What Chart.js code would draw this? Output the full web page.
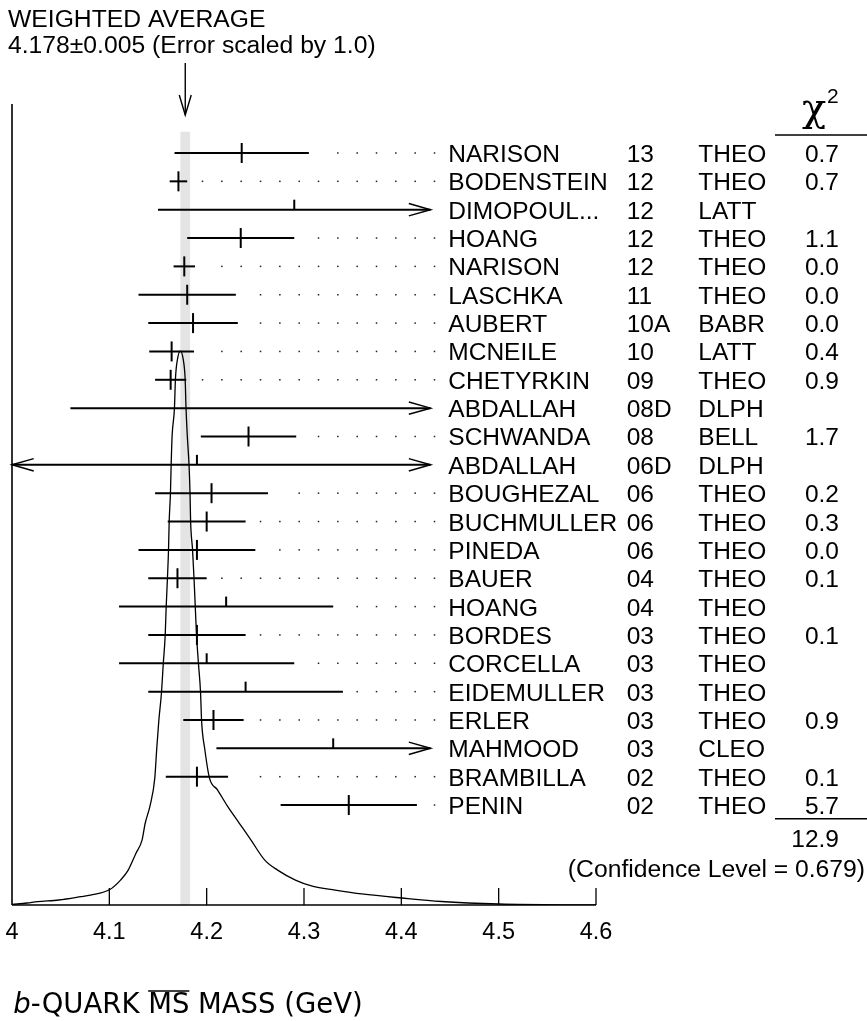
<!DOCTYPE html>
<html>
<head>
<meta charset="utf-8">
<script src="https://cdn.jsdelivr.net/npm/chart.js@4.4.1/dist/chart.umd.min.js"></script>
<style>
html, body { margin: 0; padding: 0; background: #fff; }
#wrap { width: 867px; height: 1021px; }
</style>
</head>
<body>
<div id="wrap"><canvas id="chart" width="867" height="1021"></canvas></div>
<script>
// measurements, top to bottom
const names = ['NARISON', 'BODENSTEIN', 'DIMOPOUL...', 'HOANG', 'NARISON', 'LASCHKA', 'AUBERT', 'MCNEILE',
  'CHETYRKIN', 'ABDALLAH', 'SCHWANDA', 'ABDALLAH', 'BOUGHEZAL', 'BUCHMULLER', 'PINEDA', 'BAUER', 'HOANG',
  'BORDES', 'CORCELLA', 'EIDEMULLER', 'ERLER', 'MAHMOOD', 'BRAMBILLA', 'PENIN'];
const years = ['13', '12', '12', '12', '12', '11', '10A', '10', '09', '08D', '08', '06D', '06', '06', '06',
  '04', '04', '03', '03', '03', '03', '03', '02', '02'];
const techs = ['THEO', 'THEO', 'LATT', 'THEO', 'THEO', 'THEO', 'BABR', 'LATT', 'THEO', 'DLPH', 'BELL', 'DLPH',
  'THEO', 'THEO', 'THEO', 'THEO', 'THEO', 'THEO', 'THEO', 'THEO', 'THEO', 'CLEO', 'THEO', 'THEO'];
const chi2 = ['0.7', '0.7', '', '1.1', '0.0', '0.0', '0.0', '0.4', '0.9', '', '1.7', '', '0.2', '0.3', '0.0',
  '0.1', '', '0.1', '', '', '0.9', '', '0.1', '5.7'];
const values = [4.236, 4.171, 4.29, 4.235, 4.177, 4.18, 4.186, 4.164, 4.163, 4.46, 4.243, 4.19, 4.205, 4.20,
  4.19, 4.17, 4.22, 4.19, 4.20, 4.24, 4.207, 4.33, 4.190, 4.346];
const errors = [0.069, 0.009, 0.14, 0.055, 0.011, 0.05, 0.046, 0.023, 0.016, 0.40, 0.049, 0.40, 0.058, 0.04,
  0.06, 0.03, 0.11, 0.05, 0.09, 0.10, 0.031, 0.12, 0.032, 0.070];

// ideogram curve (height relative to the peak)
const curveX = [4.000, 4.0155, 4.0262, 4.0481, 4.0707, 4.0806, 4.1006, 4.1115, 4.1194, 4.1275, 4.1336, 4.1369,
  4.1418, 4.1467, 4.1487, 4.1508, 4.1536, 4.1554, 4.1574, 4.1584, 4.1597, 4.1608, 4.1615, 4.1628, 4.1635,
  4.1645, 4.1669, 4.1679, 4.1699, 4.1730, 4.1760, 4.1779, 4.1788, 4.1801, 4.1819, 4.1829, 4.1835, 4.1855,
  4.1870, 4.1883, 4.1896, 4.1916, 4.1937, 4.1948, 4.1980, 4.2029, 4.2111, 4.2212, 4.2334, 4.2456, 4.2597,
  4.2729, 4.2912, 4.3085, 4.3320, 4.3595, 4.4003, 4.4411, 4.5002, 4.6000];
const curveY = [0.001, 0.0036, 0.006, 0.009, 0.015, 0.018, 0.028, 0.045, 0.063, 0.094, 0.117, 0.148, 0.179,
  0.229, 0.282, 0.332, 0.384, 0.435, 0.487, 0.538, 0.590, 0.641, 0.693, 0.744, 0.794, 0.847, 0.897, 0.949,
  0.984, 1.000, 0.984, 0.949, 0.897, 0.847, 0.794, 0.744, 0.693, 0.641, 0.590, 0.538, 0.487, 0.435, 0.384,
  0.332, 0.282, 0.229, 0.208, 0.179, 0.148, 0.117, 0.081, 0.063, 0.045, 0.034, 0.027, 0.020, 0.0126, 0.0063,
  0.0018, 0.000];

const tickValues = [4.0, 4.1, 4.2, 4.3, 4.4, 4.5, 4.6];
const tickLabels = ['4', '4.1', '4.2', '4.3', '4.4', '4.5', '4.6'];

const average = 4.178;
const averageErr = 0.005;
const chi2Total = '12.9';
const confidence = '(Confidence Level = 0.679)';

const barLimit = 4.43;   // bars are cut here by the name column
const sans = "'Liberation Sans', Arial, sans-serif";

const curvePoints = curveX.map((x, i) => ({ x: x, y: curveY[i] }));
const usedPoints = [];
values.forEach((v, i) => { if (chi2[i] !== '') usedPoints.push({ x: v, y: i }); });

function line(ctx, x0, y0, x1, y1) {
  ctx.beginPath();
  ctx.moveTo(x0, y0);
  ctx.lineTo(x1, y1);
  ctx.stroke();
}

const ideogram = {
  id: 'ideogram',
  beforeDatasetsDraw(chart) {
    const ctx = chart.ctx, xs = chart.scales.x, yr = chart.scales.yr, area = chart.chartArea;
    ctx.save();

    // error band of the average
    const b0 = xs.getPixelForValue(average - averageErr);
    const b1 = xs.getPixelForValue(average + averageErr);
    const bt = yr.getPixelForValue(-0.75);
    ctx.fillStyle = '#e4e4e4';
    ctx.fillRect(b0, bt, b1 - b0, area.bottom - bt);

    // axes and ticks
    ctx.strokeStyle = '#000';
    ctx.lineWidth = 1.6;
    line(ctx, area.left, area.top, area.left, area.bottom);
    line(ctx, area.left, area.bottom, area.right, area.bottom);
    ctx.lineWidth = 1.3;
    ctx.font = '23.5px ' + sans;
    ctx.fillStyle = '#000';
    ctx.textAlign = 'center';
    ctx.textBaseline = 'alphabetic';
    tickValues.forEach((t, i) => {
      const px = xs.getPixelForValue(t);
      if (i > 0) line(ctx, px, area.bottom, px, area.bottom - 17);
      ctx.fillText(tickLabels[i], px, area.bottom + 33.5);
    });

    // error bars
    const xmin = xs.getPixelForValue(4.0);
    const xlim = xs.getPixelForValue(barLimit);
    values.forEach((v, i) => {
      const y = yr.getPixelForValue(i);
      const lo = v - errors[i], hi = v + errors[i];
      const leftArrow = lo < 4.0;
      const rightArrow = hi >= barLimit - 0.001;
      const x0 = leftArrow ? xmin : xs.getPixelForValue(lo);
      const x1 = rightArrow ? xlim : xs.getPixelForValue(hi);
      ctx.lineWidth = 2;
      line(ctx, x0, y, x1, y);
      ctx.lineWidth = 1.5;
      if (rightArrow) {
        ctx.beginPath();
        ctx.moveTo(x1 - 21.7, y - 6.2);
        ctx.lineTo(x1, y);
        ctx.lineTo(x1 - 21.7, y + 6.2);
        ctx.stroke();
      }
      if (leftArrow) {
        ctx.beginPath();
        ctx.moveTo(x0 + 21.7, y - 6.2);
        ctx.lineTo(x0, y);
        ctx.lineTo(x0 + 21.7, y + 6.2);
        ctx.stroke();
      }
      // measurements left out of the average get a half tick
      if (chi2[i] === '' && v < barLimit) {
        const px = xs.getPixelForValue(v);
        ctx.lineWidth = 2;
        line(ctx, px, y, px, y - 10);
      }
      // dotted leader towards the name
      if (!rightArrow) {
        ctx.fillStyle = '#222';
        for (let dx = 434.5; dx > x1 + 13.5; dx -= 19.33) {
          ctx.fillRect(dx - 0.75, y - 0.75, 1.5, 1.5);
        }
      }
    });
    ctx.restore();
  },
  afterDraw(chart) {
    const ctx = chart.ctx, xs = chart.scales.x, yr = chart.scales.yr, area = chart.chartArea;
    ctx.save();
    ctx.fillStyle = '#000';
    ctx.strokeStyle = '#000';
    ctx.textBaseline = 'alphabetic';

    // header
    ctx.font = '24.7px ' + sans;
    ctx.textAlign = 'left';
    ctx.fillText('WEIGHTED AVERAGE', 8, 27);
    ctx.fillText('4.178\u00b10.005 (Error scaled by 1.0)', 8, 53.3);

    // arrow to the average
    const ax = xs.getPixelForValue(average);
    ctx.lineWidth = 1.4;
    line(ctx, ax, 63, ax, 115);
    ctx.beginPath();
    ctx.moveTo(ax - 6, 95);
    ctx.lineTo(ax, 115);
    ctx.lineTo(ax + 6, 95);
    ctx.stroke();

    // chi^2 column head
    ctx.font = "40px 'DejaVu Serif', serif";
    ctx.textAlign = 'left';
    ctx.fillText('\u03c7', 802, 121);
    ctx.font = '21px ' + sans;
    ctx.fillText('2', 827, 103);
    ctx.lineWidth = 1.3;
    line(ctx, 775, 135, 867, 135);

    // rows
    ctx.font = '24.5px ' + sans;
    names.forEach((n, i) => {
      const y = yr.getPixelForValue(i) + 9;
      ctx.textAlign = 'left';
      ctx.fillText(n, 448.3, y);
      ctx.fillText(years[i], 626.7, y);
      ctx.fillText(techs[i], 698.3, y);
      ctx.textAlign = 'right';
      if (chi2[i] !== '') ctx.fillText(chi2[i], 839, y);
    });
    const yLast = yr.getPixelForValue(names.length - 1);
    line(ctx, 775, yLast + 13.7, 867, yLast + 13.7);
    ctx.textAlign = 'right';
    ctx.fillText(chi2Total, 839, yLast + 42);
    ctx.font = '24.7px ' + sans;
    ctx.fillText(confidence, 865, yLast + 71.5);

    // x axis title
    let x = 13.3;
    const yb = area.bottom + 108;
    ctx.textAlign = 'left';
    ctx.font = "italic 27.5px 'DejaVu Sans', sans-serif";
    ctx.fillText('b', x, yb);
    x += ctx.measureText('b').width;
    ctx.font = "27.5px 'DejaVu Sans', sans-serif";
    ctx.fillText('-QUARK ', x, yb);
    x += ctx.measureText('-QUARK ').width;
    const msw = ctx.measureText('MS').width;
    ctx.fillText('MS', x, yb);
    ctx.lineWidth = 1.6;
    line(ctx, x, yb - 22, x + msw, yb - 22);
    x += msw;
    ctx.fillText(' MASS (GeV)', x, yb);
    ctx.restore();
  }
};

const chart = new Chart(document.getElementById('chart'), {
  type: 'scatter',
  data: {
    datasets: [
      {
        type: 'line',
        label: 'ideogram',
        data: curvePoints,
        yAxisID: 'yc',
        borderColor: '#000',
        borderWidth: 1.3,
        pointRadius: 0,
        fill: false,
        cubicInterpolationMode: 'monotone'
      },
      {
        label: 'used',
        data: usedPoints,
        yAxisID: 'yr',
        pointStyle: 'line',
        rotation: 90,
        pointRadius: 10,
        borderColor: '#000',
        backgroundColor: '#000',
        borderWidth: 2
      }
    ]
  },
  options: {
    responsive: false,
    animation: false,
    layout: { padding: { left: 7.3, right: 271, top: 104, bottom: 116 } },
    scales: {
      x: { type: 'linear', min: 4.0, max: 4.6, display: false },
      yr: { type: 'linear', min: -1.728, max: 26.526, reverse: true, display: false },
      yc: { type: 'linear', min: 0, max: 1.446, display: false }
    },
    plugins: { legend: { display: false }, tooltip: { enabled: false } }
  },
  plugins: [ideogram]
});
</script>
</body>
</html>
